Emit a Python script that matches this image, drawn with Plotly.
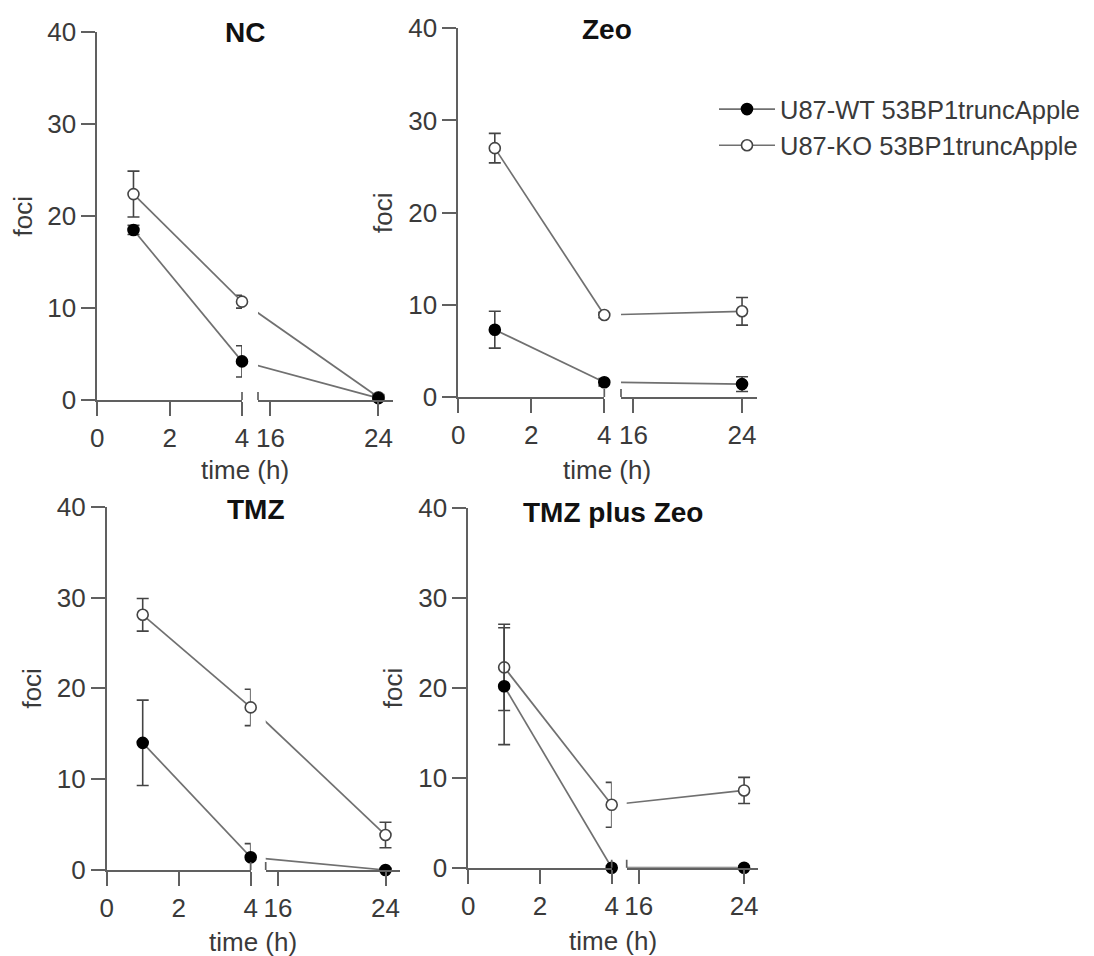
import plotly.graph_objects as go

# ---------------- data ----------------
time_h = [1, 4, 24]
panels = ["NC", "Zeo", "TMZ", "TMZ plus Zeo"]
series_names = ["U87-WT 53BP1truncApple", "U87-KO 53BP1truncApple"]

nc_wt = [18.5, 4.2, 0.2]
nc_wt_err = [0.5, 1.7, 0.3]
nc_ko = [22.4, 10.7, 0.3]
nc_ko_err = [2.5, 0.7, 0.3]

zeo_wt = [7.3, 1.6, 1.4]
zeo_wt_err = [2.0, 0.4, 0.8]
zeo_ko = [27.0, 8.9, 9.3]
zeo_ko_err = [1.6, 0.3, 1.5]

tmz_wt = [14.0, 1.4, 0.0]
tmz_wt_err = [4.7, 1.5, 0.2]
tmz_ko = [28.1, 17.9, 3.85]
tmz_ko_err = [1.8, 2.0, 1.4]

tz_wt = [20.2, 0.0, 0.0]
tz_wt_err = [6.5, 0.2, 0.2]
tz_ko = [22.3, 7.0, 8.6]
tz_ko_err = [4.8, 2.5, 1.45]

x_ticks_a = [0, 2, 4]
x_ticks_b = [16, 24]
y_ticks = [0, 10, 20, 30, 40]

panel_data = [
    (nc_wt, nc_wt_err, nc_ko, nc_ko_err),
    (zeo_wt, zeo_wt_err, zeo_ko, zeo_ko_err),
    (tmz_wt, tmz_wt_err, tmz_ko, tmz_ko_err),
    (tz_wt, tz_wt_err, tz_ko, tz_ko_err),
]

# ---------------- layout geometry (page pixels; page has an 8px body margin) ----------------
W, H = 1078, 956
OFF = 8
# (seg1 left, seg1 right, seg2 left, seg2 right, y top(40), y bottom(0))
geom = [
    (97.3, 242.0, 258.0, 393.0, 32.3, 400.0),
    (458.3, 604.3, 621.0, 756.7, 28.3, 397.0),
    (106.7, 250.7, 265.7, 400.0, 506.7, 870.0),
    (468.3, 611.7, 626.7, 758.3, 508.3, 867.7),
]
R0, R1 = 15.08, 25.08
title_pos = [(245, 33), (607, 30), (256, 510), (613, 512)]
xtitle_pos = [(245, 470), (607, 470), (253, 942), (613, 941)]


def fx(px):
    return (px - OFF) / W


def fy(py):
    return 1 - (py - OFF) / H


FONT = "Liberation Sans, Arial, sans-serif"
FS = 26
AX = "#606060"
TXT = "#3a3a3a"
LINE = "#707070"

fig = go.Figure()
layout = {}
shapes = []
annotations = []

for i, (name, g, dat) in enumerate(zip(panels, geom, panel_data)):
    a1, a2, b1, b2, yt, yb = g
    xa = 2 * i + 1
    xb = 2 * i + 2
    yi = i + 1
    xa_name = "x" if xa == 1 else f"x{xa}"
    xb_name = f"x{xb}"
    y_name = "y" if yi == 1 else f"y{yi}"

    common_x = dict(
        showline=True, linecolor=AX, linewidth=1.7, ticks="outside", ticklen=14,
        tickwidth=1.7, tickcolor=AX, showgrid=False, zeroline=False, automargin=False,
        tickfont=dict(family=FONT, size=FS, color=TXT), anchor=y_name,
    )
    layout[f"xaxis{xa}" if xa > 1 else "xaxis"] = dict(
        common_x, domain=[fx(a1), fx(a2)], range=[0, 4], tickvals=x_ticks_a)
    layout[f"xaxis{xb}"] = dict(
        common_x, domain=[fx(b1), fx(b2)], range=[R0, R1], tickvals=x_ticks_b)
    layout[f"yaxis{yi}" if yi > 1 else "yaxis"] = dict(
        domain=[fy(yb), fy(yt)], range=[0, 40], tickvals=y_ticks,
        showline=True, linecolor=AX, linewidth=1.7, ticks="outside", ticklen=14,
        tickwidth=1.7, tickcolor=AX, showgrid=False, zeroline=False, automargin=False,
        tickfont=dict(family=FONT, size=FS, color=TXT), anchor=xa_name,
        title=dict(text="foci", font=dict(family=FONT, size=FS, color=TXT), standoff=8),
    )

    # virtual x of the 4 h point expressed in the second segment's scale
    px_per_unit_b = (b2 - b1) / (R1 - R0)
    x_virtual = R0 - (b1 - a2) / px_per_unit_b

    wt, wt_err, ko, ko_err = dat
    for vals, errs, filled in [(ko, ko_err, False), (wt, wt_err, True)]:
        sname = series_names[0] if filled else series_names[1]
        marker = dict(
            symbol="circle", size=11,
            color="#000000" if filled else "#ffffff",
            line=dict(color="#000000" if filled else "#444444", width=1.6),
        )
        err_style = dict(type="data", visible=True, color="#444444", thickness=1.6, width=6)
        fig.add_trace(go.Scatter(
            x=time_h[:2], y=vals[:2], mode="lines+markers",
            error_y=dict(err_style, array=errs[:2]),
            line=dict(color=LINE, width=1.7), marker=marker,
            xaxis=xa_name, yaxis=y_name, cliponaxis=False,
            name=sname, legendrank=1 if filled else 2,
            showlegend=(i == 0),
        ))
        fig.add_trace(go.Scatter(
            x=[x_virtual, time_h[2]], y=[vals[1], vals[2]], mode="lines",
            line=dict(color=LINE, width=1.7), xaxis=xb_name, yaxis=y_name,
            showlegend=False, hoverinfo="skip",
        ))
        fig.add_trace(go.Scatter(
            x=time_h[2:], y=vals[2:], mode="markers",
            error_y=dict(err_style, array=errs[2:]),
            marker=marker, xaxis=xb_name, yaxis=y_name, cliponaxis=False,
            showlegend=False, name=sname,
        ))

    for ref, xpos in [(xa_name, 1), (xb_name, 0)]:
        shapes.append(dict(
            type="line", xref=f"{ref} domain", x0=xpos, x1=xpos,
            yref=y_name, ysizemode="pixel", yanchor=0, y0=-8, y1=8,
            line=dict(color=AX, width=1.7),
        ))

    tx, ty = title_pos[i]
    annotations.append(dict(
        text=f"<b>{name}</b>", x=fx(tx), y=fy(ty), xref="paper", yref="paper",
        showarrow=False, xanchor="center", yanchor="middle",
        font=dict(family=FONT, size=28, color="#111111"),
    ))
    ux, uy = xtitle_pos[i]
    annotations.append(dict(
        text="time (h)", x=fx(ux), y=fy(uy), xref="paper", yref="paper",
        showarrow=False, xanchor="center", yanchor="middle",
        font=dict(family=FONT, size=FS, color=TXT),
    ))

fig.update_layout(
    **layout,
    width=W, height=H,
    margin=dict(l=0, r=0, t=0, b=0),
    paper_bgcolor="white", plot_bgcolor="white",
    shapes=shapes, annotations=annotations,
    showlegend=True,
    legend=dict(
        x=1.0, y=fy(86), xanchor="right", yanchor="top",
        font=dict(family=FONT, size=25.5, color=TXT), itemwidth=56,
        bgcolor="rgba(0,0,0,0)", tracegroupgap=0,
    ),
)

fig.write_html("out.html")
